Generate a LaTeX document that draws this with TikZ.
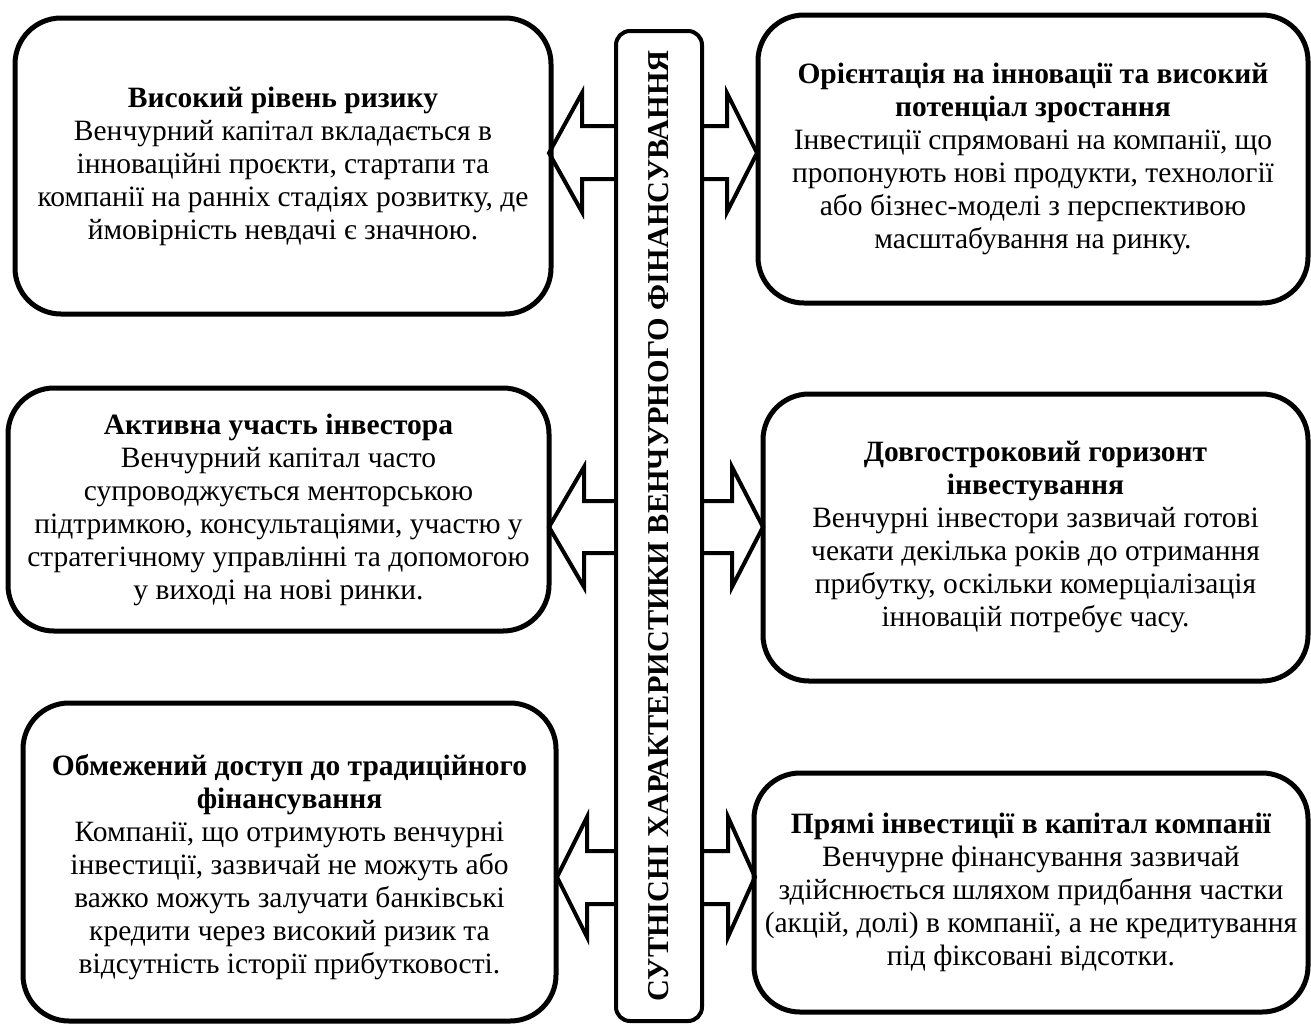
\documentclass[tikz,border=0pt]{standalone}
\usepackage{fontspec}
\setmainfont{Liberation Serif}
\begin{document}
\begin{tikzpicture}[x=1pt,y=-1pt,
  boxshape/.style={draw, line width=5pt, rounded corners=46pt, outer sep=0pt, inner sep=0pt},
  txt/.style={align=center, font=\fontsize{29.5}{33}\selectfont, inner sep=0pt},
  blockarrow/.style={draw, line width=4pt, line join=miter, miter limit=10}]
\useasboundingbox (0,0) rectangle (1311,1026);
% side boxes
\node[boxshape, minimum width=536pt, minimum height=296pt] (b1) at (283,166) {};
\node[boxshape, minimum width=550pt, minimum height=288pt] (b2) at (1033,159) {};
\node[boxshape, minimum width=541pt, minimum height=243pt] (b3) at (278.5,509.5) {};
\node[boxshape, minimum width=545pt, minimum height=287pt] (b4) at (1035.5,537.5) {};
\node[boxshape, minimum width=533pt, minimum height=318pt] (b5) at (289.5,862) {};
\node[boxshape, minimum width=554pt, minimum height=239pt] (b6) at (1031,892.5) {};
% texts
\node[txt] (t1) at (b1.center) {\textbf{Високий рівень ризику}\\Венчурний капітал вкладається в\\інноваційні проєкти, стартапи та\\компанії на ранніх стадіях розвитку, де\\ймовірність невдачі є значною.};
\node[txt] (t2) at (b2.center) {\textbf{Орієнтація на інновації та високий}\\\textbf{потенціал зростання}\\Інвестиції спрямовані на компанії, що\\пропонують нові продукти, технології\\або бізнес-моделі з перспективою\\масштабування на ринку.};
\node[txt] (t3) at (b3.center) {\textbf{Активна участь інвестора}\\Венчурний капітал часто\\супроводжується менторською\\підтримкою, консультаціями, участю у\\стратегічному управлінні та допомогою\\у виході на нові ринки.};
\node[txt] (t4) at (b4.center) {\textbf{Довгостроковий горизонт}\\\textbf{інвестування}\\Венчурні інвестори зазвичай готові\\чекати декілька років до отримання\\прибутку, оскільки комерціалізація\\інновацій потребує часу.};
\node[txt] (t5) at ([yshift=-5pt]b5.center) {\textbf{Обмежений доступ до традиційного}\\\textbf{фінансування}\\Компанії, що отримують венчурні\\інвестиції, зазвичай не можуть або\\важко можуть залучати банківські\\кредити через високий ризик та\\відсутність історії прибутковості.};
\node[txt] (t6) at (b6.center) {\textbf{Прямі інвестиції в капітал компанії}\\Венчурне фінансування зазвичай\\здійснюється шляхом придбання частки\\(акцій, долі) в компанії, а не кредитування\\під фіксовані відсотки.};
% central box geometry
\coordinate (cw) at (616,0);
\coordinate (ce) at (702,0);
% arrows
\draw[blockarrow] (cw |- 0,126) -- (582,126) -- (582,93) -- (549,153) -- (582,212) -- (582,179) -- (cw |- 0,179);
\draw[blockarrow] (ce |- 0,126) -- (727,126) -- (727,93) -- (757,153) -- (727,212) -- (727,179) -- (ce |- 0,179);
\draw[blockarrow] (cw |- 0,501) -- (584,501) -- (584,467) -- (549,527) -- (584,587) -- (584,553) -- (cw |- 0,553);
\draw[blockarrow] (ce |- 0,501) -- (732,501) -- (732,467) -- (763,527) -- (732,587) -- (732,553) -- (ce |- 0,553);
\draw[blockarrow] (cw |- 0,851) -- (587,851) -- (587,817) -- (557,877) -- (587,937) -- (587,904) -- (cw |- 0,904);
\draw[blockarrow] (ce |- 0,851) -- (728,851) -- (728,817) -- (755,877) -- (728,937) -- (728,904) -- (ce |- 0,904);
% central box
\node[draw, line width=4pt, rounded corners=14pt, minimum width=86pt, minimum height=990pt, outer sep=0pt, inner sep=0pt] (c) at (659,526) {};
\node[rotate=90, font=\bfseries\fontsize{30.3}{33}\selectfont, inner sep=0pt] (ct) at (c.center) {СУТНІСНІ ХАРАКТЕРИСТИКИ ВЕНЧУРНОГО ФІНАНСУВАННЯ};
\end{tikzpicture}
\end{document}
